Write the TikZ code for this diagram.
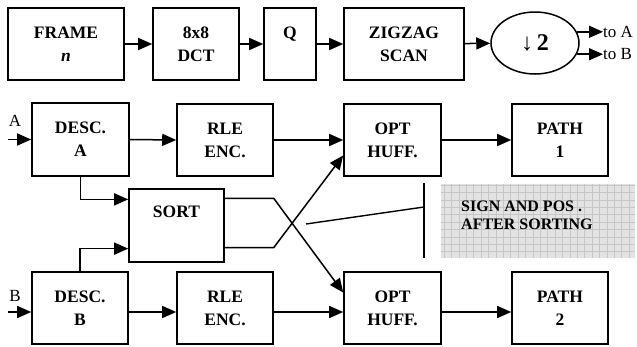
\documentclass[tikz,border=0pt]{standalone}
\usepackage{fontspec}
\setmainfont{Liberation Serif}
\usetikzlibrary{arrows.meta,calc,shapes.geometric}
\begin{document}
\begin{tikzpicture}[x=1pt,y=-1pt,
  box/.style={draw,line width=1.6pt,inner sep=0pt,font=\fontsize{17.5}{23}\selectfont\bfseries,align=center},
  arr/.style={line width=1.5pt,-{Triangle[length=14pt,width=12pt]}},
  ln/.style={line width=1.4pt},
  lbl/.style={font=\fontsize{17}{20}\selectfont,inner sep=0pt}]
\useasboundingbox (0,0) rectangle (637,346);
% top row
\node[box,minimum width=116pt,minimum height=72pt] (frame) at (66,44) {FRAME\\\textit{n}};
\node[box,minimum width=86pt,minimum height=72pt] (dct) at (196,44) {8x8\\DCT};
\node[box,minimum width=52pt,minimum height=72pt] (q) at (290,44) {Q\\\mbox{}};
\node[box,minimum width=120pt,minimum height=72pt] (zig) at (404,44) {ZIGZAG\\SCAN};
\node[draw,ellipse,line width=1.5pt,minimum width=88pt,minimum height=62pt,inner sep=0pt,font=\fontsize{24}{24}\selectfont\bfseries] (ell) at (535,43) {↓\,2};
\node[lbl,anchor=west] (toA) at (603,32) {to A};
\node[lbl,anchor=west] (toB) at (603,54) {to B};
\draw[arr] (frame) -- (dct);
\draw[arr] (dct) -- (q);
\draw[arr] (q) -- (zig);
\draw[arr] (zig) -- (ell);
\draw[arr] (ell.15) -- (ell.15 -| toA.west);
\draw[arr] (ell.-15) -- (ell.-15 -| toB.west);
% lower part
\node[box,minimum width=97pt,minimum height=73pt] (descA) at (80.5,139.5) {DESC.\\A};
\node[box,minimum width=96pt,minimum height=72pt] (rleA) at (225,140) {RLE\\ENC.};
\node[box,minimum width=97pt,minimum height=72pt] (optA) at (392.5,140) {OPT\\HUFF.};
\node[box,minimum width=96pt,minimum height=72pt] (path1) at (560,140) {PATH\\1};
\node[box,minimum width=95pt,minimum height=73pt] (sort) at (176.5,225.5) {};
\node[font=\fontsize{17.5}{23}\selectfont\bfseries,inner sep=0pt] (sorttxt) at ($(sort.north)+(0,24)$) {SORT};
\node[box,minimum width=96pt,minimum height=72pt] (descB) at (80,308) {DESC.\\B};
\node[box,minimum width=96pt,minimum height=72pt] (rleB) at (225,308) {RLE\\ENC.};
\node[box,minimum width=97pt,minimum height=72pt] (optB) at (392.5,308) {OPT\\HUFF.};
\node[box,minimum width=96pt,minimum height=72pt] (path2) at (560,308) {PATH\\2};
\node[lbl] (labA) at (15,121) {A};
\node[lbl] (labB) at (15,296) {B};
\coordinate (inA) at (8,139.5);
\coordinate (inB) at (8,312);
\draw[arr] (inA) -- (descA.west);
\draw[arr] (inB) -- (inB -| descB.west);
\draw[arr] (descA.east) -- (rleA.west);
\draw[arr] (rleA.east) -- (optA.west);
\draw[arr] (optA.east) -- (path1.west);
\draw[arr] ([yshift=-4pt]descB.east) -- ([yshift=-4pt]rleB.west);
\draw[arr] ([yshift=-4pt]rleB.east) -- ([yshift=-4pt]optB.west);
\draw[arr] ([yshift=-4pt]optB.east) -- ([yshift=-4pt]path2.west);
\draw[arr] (descA.south) |- ($(sort.north west)!0.15!(sort.south west)$);
\draw[arr] (descB.north) |- ($(sort.north west)!0.81!(sort.south west)$);
\draw[arr] ($(sort.north east)!0.137!(sort.south east)$) -- ++(49,0) -- ($(optB.north west)!0.29!(optB.south west)$);
\draw[arr] ($(sort.north east)!0.795!(sort.south east)$) -- ++(49,0) -- ($(optA.north west)!0.71!(optA.south west)$);
% note
\node[fill=gray!22,minimum width=194pt,minimum height=74pt,inner sep=0pt] (note) at (538,221) {};
\begin{scope}
\clip (note.south west) rectangle (note.north east);
\draw[gray!45,line width=0.5pt] (note.south west) grid[step=7.4pt] (note.north east);
\end{scope}
\node[font=\fontsize{16}{18}\selectfont\bfseries,align=left,anchor=west,inner sep=0pt] (notetxt) at (461,215) {SIGN AND POS .\\AFTER SORTING};
\coordinate (m1) at (306,224);
\coordinate (m2) at (424,207);
\coordinate (v1) at (424,183);
\coordinate (v2) at (424,258);
\draw[ln] (m1) -- (m2);
\draw[ln] (v1) -- (v2);
\end{tikzpicture}
\end{document}
